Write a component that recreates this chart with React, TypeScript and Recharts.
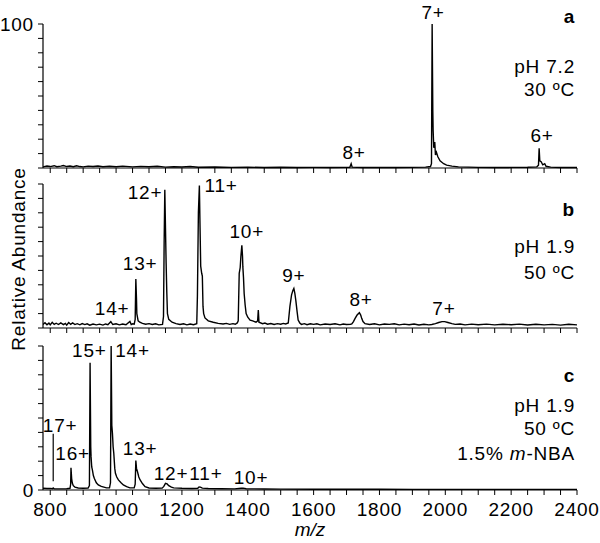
import { LineChart, Line, XAxis, YAxis, ReferenceDot, ReferenceLine } from 'recharts';

// m/z, relative abundance
const spectrumA: [number, number][] = [
  [778, 0.8], [790, 1.4], [800, 1.0], [812, 1.6], [820, 0.9], [832, 1.3], [840, 1.7], [850, 1.0],
  [860, 1.4], [870, 0.9], [880, 1.5], [890, 1.0], [900, 0.8], [915, 1.3], [930, 1.0], [945, 1.4],
  [960, 0.9], [980, 1.2], [1000, 0.9], [1020, 1.3], [1050, 0.8], [1075, 1.1], [1100, 0.9],
  [1125, 1.2], [1150, 0.6], [1175, 0.9], [1200, 0.7], [1225, 1.0], [1250, 0.5], [1300, 0.7],
  [1350, 0.4], [1400, 0.6], [1450, 0.3], [1500, 0.5], [1550, 0.3], [1600, 0.4], [1650, 0.3],
  [1700, 0.4], [1710, 0.5], [1714, 3.0], [1717, 0.6], [1750, 0.3], [1800, 0.3], [1850, 0.3],
  [1900, 0.4], [1940, 0.6], [1955, 1.0], [1958, 3], [1960, 100], [1962, 40], [1963, 26],
  [1965, 14], [1968, 18], [1970, 9], [1973, 11], [1977, 8], [1984, 5], [1995, 3], [2004, 2],
  [2020, 1.3], [2040, 0.8], [2100, 0.4], [2150, 0.3], [2200, 0.4], [2250, 0.5], [2278, 0.8],
  [2283, 2], [2285, 13.7], [2287, 5], [2291, 4.4], [2296, 2.2], [2302, 3], [2306, 1.2],
  [2320, 0.6], [2350, 0.3], [2400, 0.3],
];

const spectrumB: [number, number][] = [
  [778, 2.5], [784, 3.6], [790, 2.2], [796, 3.4], [800, 2.2], [806, 3.9], [812, 2.5], [818, 3.3],
  [825, 2.4], [832, 3.5], [840, 2.3], [846, 3.2], [850, 2.0], [856, 3.8], [862, 2.6], [868, 3.6],
  [875, 2.4], [882, 3.0], [890, 2.2], [897, 3.1], [905, 2.4], [912, 2.9], [920, 2.0], [930, 2.8],
  [940, 2.2], [950, 2.7], [960, 2.0], [968, 2.8], [975, 2.3], [984, 4.4], [990, 2.4], [1000, 2.9],
  [1010, 2.2], [1020, 2.8], [1030, 2.3], [1042, 4.6], [1046, 2.4], [1050, 2.9], [1055, 2.6],
  [1058, 6], [1060, 34], [1062, 20], [1063, 10], [1067, 5], [1072, 4], [1080, 3.2], [1090, 2.6],
  [1100, 3.0], [1110, 2.4], [1120, 2.9], [1130, 2.2], [1141, 2.5], [1144, 8], [1146, 60],
  [1148, 96], [1150, 70], [1152, 45], [1154, 25], [1156, 10], [1160, 6], [1170, 4], [1182, 3],
  [1194, 2.4], [1205, 2.9], [1215, 2.2], [1225, 2.8], [1235, 2.3], [1245, 3], [1247, 22],
  [1250, 80], [1253, 99], [1255, 70], [1257, 43], [1260, 38], [1262, 36], [1264, 15], [1266, 10],
  [1270, 7], [1280, 5], [1295, 4], [1310, 3.2], [1325, 2.8], [1335, 3.2], [1345, 2.5],
  [1355, 3.0], [1362, 2.6], [1368, 3.5], [1371, 5], [1374, 38], [1377, 42], [1379, 49.5],
  [1382, 57.5], [1384, 50], [1385, 42.6], [1387, 35], [1389, 24], [1392, 16], [1395, 10],
  [1400, 7.5], [1407, 5.5], [1415, 5], [1425, 4], [1430, 5], [1432, 12.5], [1434, 4], [1445, 3],
  [1452, 3.4], [1460, 2.6], [1470, 3.1], [1480, 2.4], [1490, 3.0], [1500, 2.6], [1508, 3.2],
  [1515, 2.8], [1523, 3.5], [1528, 15], [1533, 23], [1537, 26], [1540, 27.5], [1543, 24],
  [1546, 19], [1550, 11], [1553, 5.5], [1558, 3.5], [1563, 2.5], [1572, 3.0], [1580, 2.3],
  [1590, 2.9], [1600, 2.5], [1610, 2.9], [1620, 2.2], [1635, 2.8], [1650, 2.4], [1665, 2.9],
  [1680, 2.2], [1690, 2.8], [1700, 2.4], [1712, 2.6], [1716, 2.8], [1721, 4.5], [1726, 6.7],
  [1732, 9], [1739, 10.6], [1743, 9], [1746, 6.7], [1750, 4.5], [1756, 3], [1770, 2.4],
  [1785, 2.9], [1800, 2.2], [1815, 2.8], [1830, 2.5], [1845, 2.9], [1860, 2.2], [1875, 2.7],
  [1890, 2.3], [1905, 2.8], [1920, 2.1], [1935, 2.6], [1950, 2.2], [1959, 2.4], [1970, 3],
  [1980, 3.8], [1990, 4.4], [1998, 4.4], [2008, 3.8], [2020, 3], [2030, 2.5], [2045, 2.8],
  [2060, 2.2], [2080, 2.7], [2100, 2.3], [2125, 2.7], [2150, 2.2], [2175, 2.6], [2200, 2.3],
  [2225, 2.7], [2250, 2.1], [2275, 2.6], [2300, 2.2], [2325, 2.5], [2350, 2], [2375, 2.6],
  [2400, 2.2],
];

const spectrumC: [number, number][] = [
  [778, 1.2], [790, 1.0], [800, 1.1], [807, 0.9], [809, 1.4], [812, 0.9], [830, 0.8], [850, 0.9],
  [860, 1.2], [862, 4], [863, 15.5], [865, 8], [867, 4.8], [870, 3], [875, 2], [885, 1.4],
  [900, 1.2], [915, 1.4], [919, 3], [921, 88.4], [923, 30], [924, 23], [926, 16], [928, 14],
  [931, 10], [934, 8], [940, 5], [946, 3.5], [955, 2.5], [971, 1.5], [980, 1.5], [983, 5],
  [985, 100], [987, 45], [989, 39], [991, 30], [993, 25.5], [996, 15], [998, 11.6], [1002, 9],
  [1007, 7], [1015, 5], [1022, 3.5], [1032, 2.3], [1042, 1.5], [1055, 1.5], [1058, 4],
  [1060, 20.4], [1062, 15], [1065, 12.7], [1069, 9], [1073, 7], [1080, 4.5], [1088, 2.3],
  [1100, 1.4], [1120, 1.2], [1140, 1.3], [1145, 2.5], [1150, 4.6], [1155, 4.2], [1160, 3],
  [1168, 2], [1175, 1.5], [1200, 1.2], [1230, 1], [1248, 1.2], [1252, 2.1], [1256, 2],
  [1262, 1.3], [1280, 1.0], [1320, 0.9], [1360, 0.8], [1380, 1.2], [1386, 1.3], [1395, 0.9],
  [1450, 0.7], [1500, 0.6], [1600, 0.5], [1700, 0.5], [1800, 0.5], [1900, 0.4], [2000, 0.4],
  [2100, 0.4], [2200, 0.4], [2300, 0.4], [2400, 0.4],
];

// charge state labels: text, m/z, abundance level
const ionsA = [
  { text: '8+', mz: 1723, level: 11 },
  { text: '7+', mz: 1963, level: 108 },
  { text: '6+', mz: 2294, level: 23 },
];
const ionsB = [
  { text: '14+', mz: 988, level: 14 },
  { text: '13+', mz: 1073, level: 45 },
  { text: '12+', mz: 1088, level: 94 },
  { text: '11+', mz: 1319, level: 99 },
  { text: '10+', mz: 1397, level: 67 },
  { text: '9+', mz: 1540, level: 37 },
  { text: '8+', mz: 1744, level: 20 },
  { text: '7+', mz: 1996, level: 14 },
];
const ionsC = [
  { text: '17+', mz: 830, level: 45 },
  { text: '16+', mz: 868, level: 25.5 },
  { text: '15+', mz: 919, level: 97 },
  { text: '14+', mz: 1050, level: 97 },
  { text: '13+', mz: 1073, level: 29 },
  { text: '12+', mz: 1167, level: 11.6 },
  { text: '11+', mz: 1273, level: 11.6 },
  { text: '10+', mz: 1410, level: 9.2 },
];

const captionsA = [
  { text: 'a', level: 105.5, bold: true },
  { text: 'pH 7.2', level: 71 },
  { text: '30 ºC', level: 55 },
];
const captionsB = [
  { text: 'b', level: 82.6, bold: true },
  { text: 'pH 1.9', level: 56.5 },
  { text: '50 ºC', level: 39 },
];
const captionsC = [
  { text: 'c', level: 80, bold: true },
  { text: 'pH 1.9', level: 59 },
  { text: '50 ºC', level: 42.8 },
  { text: '1.5% m-NBA', level: 25.5 },
];

const MZ_DOMAIN: [number, number] = [778, 2400];
const MZ_LABELS = [800, 1000, 1200, 1400, 1600, 1800, 2000, 2200, 2400];
const MZ_TICKS = Array.from({ length: 33 }, (_, i) => 800 + i * 50);
const ABUND_TICKS = [0, 10, 20, 30, 40, 50, 60, 70, 80, 90, 100];
const CAPTION_MZ = 2394;

const FONT = '"Liberation Sans", Arial, sans-serif';
const FS = 19;
const LS = 0.8; // letter spacing, the original type is a little wide

function captionText(text: string) {
  if (text.includes('m-NBA')) {
    return (
      <>
        <tspan>1.5% </tspan>
        <tspan fontStyle="italic">m</tspan>
        <tspan>-NBA</tspan>
      </>
    );
  }
  return text;
}

function SpectrumPanel({
  spectrum,
  ions,
  captions,
  top,
  height,
  showMz,
  yLabelAt,
  marker,
}: any) {
  const data = spectrum.map(([mz, ab]: [number, number]) => ({ mz, ab }));
  return (
    <div style={{ position: 'absolute', left: 0, top }}>
      <LineChart width={600} height={height} data={data} margin={{ top: 24, right: 23, bottom: 0, left: 0 }}>
        <XAxis
          dataKey="mz"
          type="number"
          domain={MZ_DOMAIN}
          allowDataOverflow
          ticks={MZ_TICKS}
          interval={0}
          tickSize={5}
          tickMargin={8}
          height={showMz ? 53 : 20}
          axisLine={{ stroke: '#000', strokeWidth: 1.2 }}
          tickLine={{ stroke: '#000' }}
          tick={{ fill: '#000', fontSize: FS, fontFamily: FONT, letterSpacing: LS }}
          tickFormatter={(v: number) => (showMz && MZ_LABELS.includes(v) ? String(v) : '')}
        />
        <YAxis
          type="number"
          domain={[0, 100]}
          ticks={ABUND_TICKS}
          interval={0}
          width={43}
          tickSize={5}
          tickMargin={4}
          axisLine={{ stroke: '#000', strokeWidth: 1.2 }}
          tickLine={{ stroke: '#000' }}
          tick={{ fill: '#000', fontSize: FS, fontFamily: FONT, letterSpacing: LS }}
          tickFormatter={(v: number) => (yLabelAt === v ? String(v) : '')}
        />
        {marker && (
          <ReferenceLine
            segment={[{ x: marker, y: 6 }, { x: marker, y: 39 }]}
            stroke="#000"
            strokeWidth={1.2}
            ifOverflow="visible"
          />
        )}
        <Line
          type="linear"
          dataKey="ab"
          stroke="#000"
          strokeWidth={1.4}
          dot={false}
          activeDot={false}
          isAnimationActive={false}
        />
        {ions.map((ion: any) => (
          <ReferenceDot
            key={ion.text + ion.mz}
            x={ion.mz}
            y={ion.level}
            r={0}
            ifOverflow="visible"
            shape={(p: any) => (
              <text
                x={p.cx}
                y={p.cy}
                dy="0.36em"
                textAnchor="middle"
                fontSize={FS}
                fontFamily={FONT}
                letterSpacing={LS}
                fill="#000"
              >
                {ion.text}
              </text>
            )}
          />
        ))}
        {captions.map((c: any) => (
          <ReferenceDot
            key={c.text}
            x={CAPTION_MZ}
            y={c.level}
            r={0}
            ifOverflow="visible"
            shape={(p: any) => (
              <text
                x={p.cx}
                y={p.cy}
                dy="0.36em"
                textAnchor="end"
                fontSize={FS}
                fontFamily={FONT}
                letterSpacing={LS}
                fontWeight={c.bold ? 'bold' : 'normal'}
                fill="#000"
              >
                {captionText(c.text)}
              </text>
            )}
          />
        ))}
      </LineChart>
    </div>
  );
}

export default function App() {
  return (
    <div
      style={{
        position: 'absolute',
        left: 0,
        top: 0,
        width: 600,
        height: 543,
        background: '#fff',
        fontFamily: FONT,
      }}
    >
      <SpectrumPanel spectrum={spectrumA} ions={ionsA} captions={captionsA} top={0} height={188} yLabelAt={100} />
      <SpectrumPanel spectrum={spectrumB} ions={ionsB} captions={captionsB} top={160} height={188} />
      <SpectrumPanel
        spectrum={spectrumC}
        ions={ionsC}
        captions={captionsC}
        top={322}
        height={221}
        showMz
        yLabelAt={0}
        marker={809}
      />
      <svg width={600} height={543} style={{ position: 'absolute', left: 0, top: 0, pointerEvents: 'none' }}>
        <text
          transform="translate(25, 259) rotate(-90)"
          textAnchor="middle"
          fontSize={FS}
          fontFamily={FONT}
          letterSpacing={LS}
          fill="#000"
        >
          Relative Abundance
        </text>
        <text x={310} y={536} textAnchor="middle" fontSize={FS} fontFamily={FONT} fontStyle="italic" fill="#000">
          m/z
        </text>
      </svg>
    </div>
  );
}
